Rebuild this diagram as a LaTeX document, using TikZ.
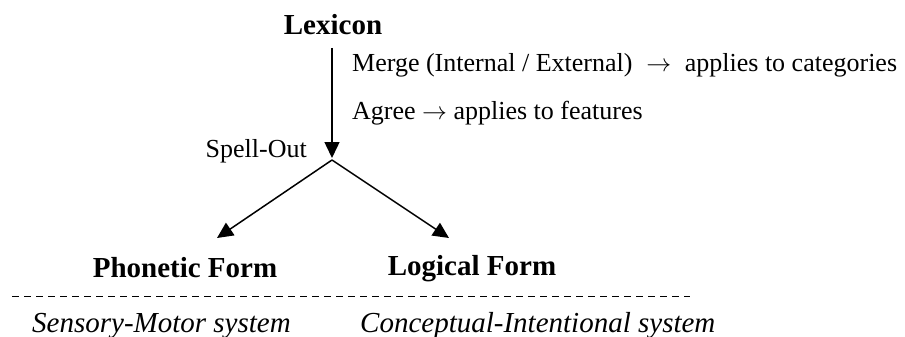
\documentclass[tikz,border=0pt]{standalone}
\usepackage{fontspec}
\setmainfont{Liberation Serif}
\usetikzlibrary{arrows.meta}
\tikzset{
  lbl/.style={inner sep=0pt, font=\fontsize{29}{32}\selectfont\bfseries},
  txt/.style={inner sep=0pt, font=\fontsize{26}{30}\selectfont},
  sys/.style={inner sep=0pt, font=\fontsize{29}{32}\selectfont\itshape},
  flow/.style={line width=1.5pt, -{Triangle[length=16pt,width=15pt]}},
  sep/.style={line width=1pt, dash pattern=on 7pt off 5pt}
}
\begin{document}
\begin{tikzpicture}[x=1pt,y=-1pt]
\useasboundingbox (0,0) rectangle (905,337);
\node[lbl, anchor=base] (lex) at (333,35) {Lexicon};
\node[txt, anchor=base west] (merge) at (352,71) {Merge (Internal / External) \;$\rightarrow$\; applies to categories};
\node[txt, anchor=base west] (agree) at (352,119) {Agree $\rightarrow$ applies to features};
\node[txt, anchor=base east] (spell) at (307,157) {Spell-Out};
\node[lbl, anchor=base] (pf) at (185,277) {Phonetic Form};
\node[lbl, anchor=base] (lf) at (472,275) {Logical Form};
\node[sys, anchor=base west] (sm) at (32,332) {Sensory-Motor system};
\node[sys, anchor=base west] (ci) at (360,332) {Conceptual-Intentional system};
\coordinate (top) at (332,48);
\coordinate (vtip) at (332,158);
\coordinate (split) at (332,160);
\coordinate (pftip) at (217,238);
\coordinate (lftip) at (449,238);
\coordinate (dl) at (12,296);
\coordinate (dr) at (690,296);
\draw[flow] (top) -- (vtip);
\draw[flow] (split) -- (pftip);
\draw[flow] (split) -- (lftip);
\draw[sep] (dl) -- (dr);
\end{tikzpicture}
\end{document}
